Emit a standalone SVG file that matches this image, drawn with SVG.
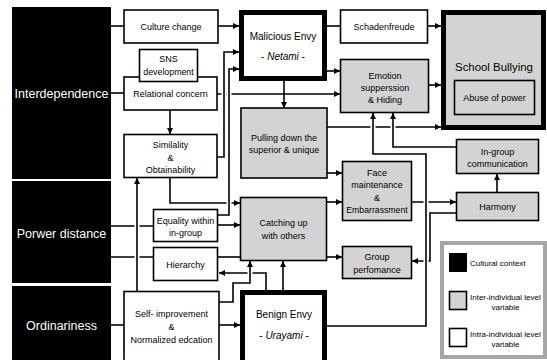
<svg xmlns="http://www.w3.org/2000/svg" width="547" height="360" viewBox="0 0 547 360">
<defs>
<marker id="ah" viewBox="0 0 6 6" refX="6" refY="3" markerWidth="6" markerHeight="6" markerUnits="userSpaceOnUse" orient="auto"><path d="M0,0 L6,3 L0,6 z" fill="#000"/></marker>
<style>
text{font-family:"Liberation Sans",Arial,sans-serif;font-size:9px;text-anchor:middle;fill:#000}
.ctx{fill:#000}
.ctxt{fill:#fff;font-size:12.5px}
.n{fill:#fff;stroke:#000;stroke-width:1.6}
.g{fill:#d3d3d3;stroke:#000;stroke-width:1.6}
.thick{stroke-width:5}
.big{font-size:10px}
.it{font-style:italic}
.ln{fill:none;stroke:#000;stroke-width:1.6}
.ar{marker-end:url(#ah)}
.case{fill:none;stroke:#fff;stroke-width:5}
.leg{font-size:8px;text-anchor:start}
.legc{font-size:8px}
</style>
</defs>
<rect width="547" height="360" fill="#fff"/>
<g id="connectors">
<path class="ln" d="M111,26 H124"/>
<path class="ln" d="M111,93 H124"/>
<path class="ln ar" d="M218,26 H239"/>
<path class="ln ar" d="M217,94 H340"/>
<path class="ln" d="M111,226 H153"/>
<path class="ln" d="M111,257 H153"/>
<path class="ln ar" d="M327,127 H441"/>
<path class="ln ar" d="M412,202 H456"/>
<path class="ln ar" d="M456,213 H430 V261 H412"/>
<path class="ln ar" d="M266,290 V273 H219"/>
<path class="ln" d="M218,257 H240"/>
<path class="ln" d="M111,325 H124"/>
<path class="ln ar" d="M219,325 H240"/>
<path class="ln ar" d="M327,202 H342"/>
<path class="ln ar" d="M327,257 H342"/>
<path class="ln ar" d="M327,173 H342"/>
<path class="ln ar" d="M327,71 H340"/>
<path class="ln" d="M327,26 H340"/>
<path class="ln ar" d="M428,26 H441"/>
<path class="ln ar" d="M429,85 H441"/>
<path class="ln ar" d="M218,225 H240"/>
<path class="ln ar" d="M170,178 V203 H240"/>
<path class="ln ar" d="M170,110 V134"/>
<path class="ln ar" d="M284,81 V108"/>
<path class="case" d="M224,150 V60"/>
<path class="ln ar" d="M217,157 H224 V52 H239"/>
<path class="case" d="M229,208 V76"/>
<path class="ln ar" d="M218,215 H229 V69 H239"/>
<path class="case" d="M137,285 V185"/>
<path class="ln ar" d="M137,291 V178"/>
<path class="case" d="M250,279 V266"/>
<path class="ln ar" d="M219,302 H233 V283 H250 V261"/>
<path class="ln ar" d="M283,290 V261"/>
<path class="case" d="M426,320 V160"/>
<path class="case" d="M373,148 V120"/>
<path class="ln ar" d="M327,326 H426 V154 H373 V113"/>
<path class="case" d="M393,141 V120"/>
<path class="ln ar" d="M456,147 H393 V113"/>
<path class="ln ar" d="M497,192 V174"/>
</g>
<g id="n-interdependence"><rect class="ctx" x="12" y="7" width="99" height="172"/><text class="ctxt" x="61.5" y="97.5">Interdependence</text></g>
<g id="n-power"><rect class="ctx" x="12" y="181" width="99" height="102"/><text class="ctxt" x="61.5" y="238">Porwer distance</text></g>
<g id="n-ordinariness"><rect class="ctx" x="12" y="286" width="99" height="80"/><text class="ctxt" x="61.5" y="329.5">Ordinariness</text></g>
<g id="n-culture"><rect class="n" x="124" y="10" width="94" height="33"/><text x="171" y="29.5">Culture change</text></g>
<g id="n-relational"><rect class="n" x="124" y="77" width="93" height="33"/><text x="170.5" y="97">Relational concern</text></g>
<g id="n-sns"><rect class="n" x="139.5" y="49.5" width="58" height="32"/><text x="168.5" y="62">SNS</text><text x="168.5" y="75" style="font-size:8.8px">development</text></g>
<g id="n-similality"><rect class="n" x="124" y="134.5" width="93" height="43"/><text x="170.5" y="148">Similality</text><text x="170.5" y="160.5">&amp;</text><text x="170.5" y="173">Obtainability</text></g>
<g id="n-equality"><rect class="n" x="153.5" y="209.5" width="64" height="32"/><text x="185.5" y="224">Equality within</text><text x="185.5" y="235.5">in-group</text></g>
<g id="n-hierarchy"><rect class="n" x="153.5" y="247.5" width="64" height="33"/><text x="185.5" y="267.5">Hierarchy</text></g>
<g id="n-self"><rect class="n" x="124" y="291.5" width="95" height="75"/><text x="171.5" y="317">Self- improvement</text><text x="171.5" y="330">&amp;</text><text x="171.5" y="342.5">Normalized edcation</text></g>
<g id="n-malicious"><rect class="n thick" x="241.5" y="12.5" width="83" height="66"/><text class="big" x="283" y="40">Malicious Envy</text><text class="big" x="283" y="60">- <tspan class="it">Netami</tspan> -</text></g>
<g id="n-schadenfreude"><rect class="n" x="340.5" y="10" width="87" height="33"/><text x="384" y="29.5">Schadenfreude</text></g>
<g id="n-emotion"><rect class="g" x="340.5" y="59.5" width="88" height="53"/><text x="385" y="79">Emotion</text><text x="385" y="91">supperssion</text><text x="385" y="103">&amp; Hiding</text></g>
<g id="n-bullying"><rect class="g thick" x="443.5" y="12.5" width="100" height="115"/><text x="494" y="71" style="font-size:11.4px">School Bullying</text><rect class="g" x="454.5" y="80.5" width="80" height="34"/><text x="494.5" y="101">Abuse of power</text></g>
<g id="n-pulling"><rect class="g" x="241" y="108" width="86" height="70"/><text x="284" y="141">Pulling down the</text><text x="284" y="153">superior &amp; unique</text></g>
<g id="n-face"><rect class="g" x="342.5" y="161.5" width="69" height="59"/><text x="377" y="176">Face</text><text x="377" y="188">maintenance</text><text x="377" y="201">&amp;</text><text x="377" y="213" style="font-size:8.7px">Embarrassment</text></g>
<g id="n-catching"><rect class="g" x="240.5" y="197.5" width="86" height="63"/><text x="283.5" y="226">Catching up</text><text x="283.5" y="239">with others</text></g>
<g id="n-group"><rect class="g" x="342.5" y="246.5" width="69" height="32"/><text x="377" y="260">Group</text><text x="377" y="273">perfomance</text></g>
<g id="n-benign"><rect class="n thick" x="242.5" y="292.5" width="82" height="80"/><text class="big" x="284" y="318">Benign Envy</text><text class="big" x="284" y="339">- <tspan class="it">Urayami</tspan> -</text></g>
<g id="n-ingroup"><rect class="g" x="456.5" y="139.5" width="82" height="34"/><text x="497.5" y="155">In-group</text><text x="497.5" y="167">communication</text></g>
<g id="n-harmony"><rect class="g" x="456.5" y="192.5" width="82" height="28"/><text x="497.5" y="210">Harmony</text></g>
<g id="legend">
<rect x="442" y="243" width="103" height="114" fill="#fff" stroke="#a6a6a6" stroke-width="4"/>
<rect x="449" y="253" width="18" height="19" fill="#000"/>
<text class="leg" x="470" y="266">Cultural context</text>
<rect class="g" x="449.5" y="291.5" width="17" height="18"/>
<text class="leg" x="470" y="300">Inter-individual level</text>
<text class="legc" x="505.5" y="310">variable</text>
<rect class="n" x="449.5" y="328.5" width="17" height="18"/>
<text class="leg" x="470" y="337">Intra-individual level</text>
<text class="legc" x="505.5" y="347">variable</text>
</g>
</svg>
